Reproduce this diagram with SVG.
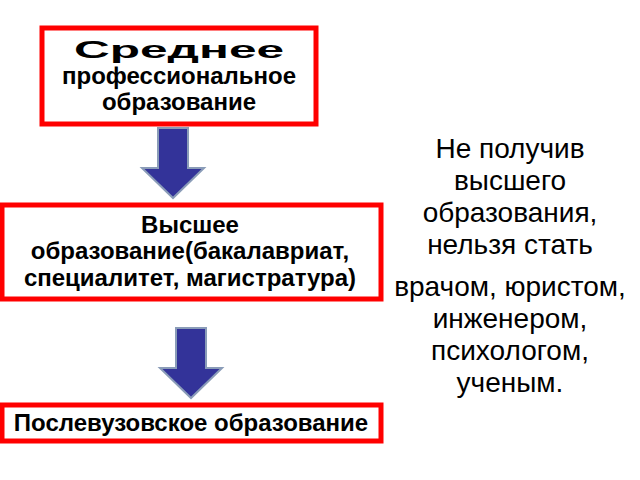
<svg xmlns="http://www.w3.org/2000/svg" width="640" height="480" viewBox="0 0 640 480">
<style>
.box{fill:#fff;stroke:#ff0000;stroke-width:5}
.t{font-family:"Liberation Sans",Arial,sans-serif;font-weight:bold;font-size:24px;text-anchor:middle;fill:#000}
.r{font-family:"Liberation Sans",Arial,sans-serif;font-size:28px;text-anchor:middle;fill:#000}
.arr{fill:#333399;stroke:#8a9cb8;stroke-width:2}
</style>
<rect width="640" height="480" fill="#fff"/>
<g id="connectors">
<polygon class="arr" points="158,128 188,128 188,168 204,168 173,198 142,168 158,168"/>
<polygon class="arr" points="176,328 206,328 206,368 222,368 191,398 160,368 176,368"/>
</g>
<g id="n1">
<rect class="box" x="42" y="28" width="274" height="96"/>
<text class="t" x="179" y="58" textLength="210" lengthAdjust="spacingAndGlyphs">Среднее</text>
<text class="t" x="179" y="84">профессиональное</text>
<text class="t" x="179" y="110">образование</text>
</g>
<g id="n2">
<rect class="box" x="2" y="205" width="379" height="94"/>
<text class="t" x="190" y="233">Высшее</text>
<text class="t" x="190" y="259">образование(бакалавриат,</text>
<text class="t" x="190" y="286">специалитет, магистратура)</text>
</g>
<g id="n3">
<rect class="box" x="2" y="405" width="379" height="36"/>
<text class="t" x="191" y="431">Послевузовское образование</text>
</g>
<g id="note">
<text class="r" x="510" y="158">Не получив</text>
<text class="r" x="510" y="190">высшего</text>
<text class="r" x="510" y="222">образования,</text>
<text class="r" x="510" y="254">нельзя стать</text>
<text class="r" x="510" y="296">врачом, юристом,</text>
<text class="r" x="510" y="328">инженером,</text>
<text class="r" x="510" y="360">психологом,</text>
<text class="r" x="510" y="392">ученым.</text>
</g>
</svg>
